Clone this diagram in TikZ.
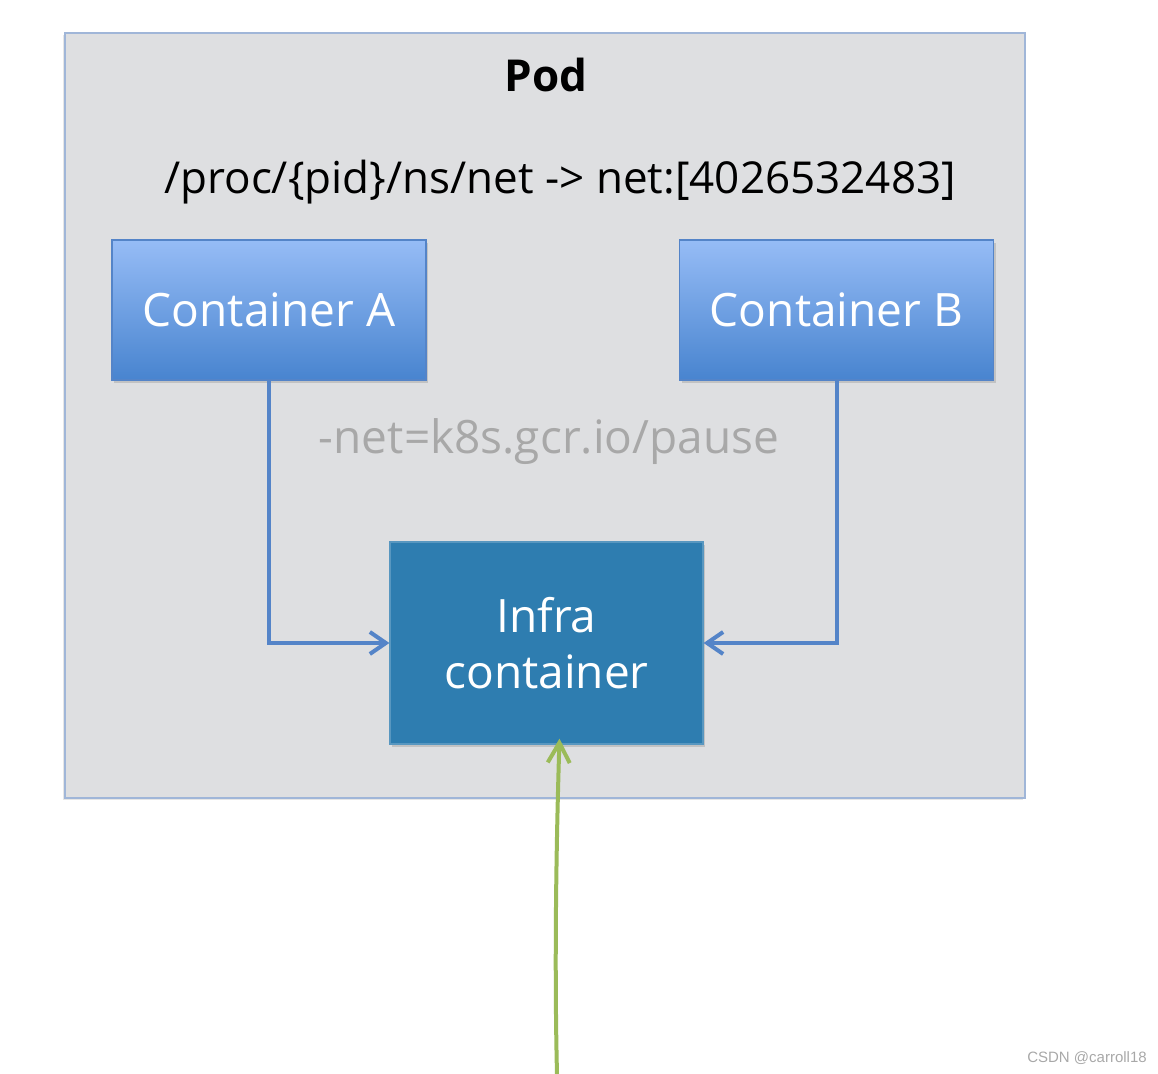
\documentclass[tikz,border=0pt]{standalone}
\usepackage{fontspec}
\setmainfont{Open Sans}
\newfontfamily\markfont{Liberation Sans}
\usetikzlibrary{arrows.meta,shadows}
\tikzset{>={Straight Barb[length=8pt,width=11pt]}}
\definecolor{mypodgray}{RGB}{222,223,225}
\definecolor{mypodline}{RGB}{160,182,216}
\definecolor{mytopblue}{RGB}{150,188,246}
\definecolor{mybotblue}{RGB}{72,132,207}
\definecolor{myedgeblue}{RGB}{84,132,200}
\definecolor{myinfra}{RGB}{46,125,176}
\definecolor{mygreen}{RGB}{155,187,89}
\definecolor{mygray}{RGB}{168,168,168}
\tikzset{
  pod/.style={fill=mypodgray,draw=mypodline,line width=1pt,
    drop shadow={shadow xshift=-1pt,shadow yshift=-1pt,opacity=0.2}},
  container/.style={draw=myedgeblue,line width=0.6pt,
    top color=mytopblue,bottom color=mybotblue,
    minimum width=157pt,minimum height=70pt,text=white,
    font=\fontsize{23}{28}\selectfont,
    drop shadow={shadow xshift=1pt,shadow yshift=-1.5pt,opacity=0.3}},
  infrabox/.style={fill=myinfra,draw=myinfra!80!white,line width=0.6pt,
    minimum width=156.5pt,minimum height=101pt,text=white,
    align=center,font=\fontsize{23}{28}\selectfont,
    drop shadow={shadow xshift=1pt,shadow yshift=-1.5pt,opacity=0.3}},
  link/.style={->,draw=myedgeblue,line width=2pt},
  entry/.style={-{Straight Barb[length=10pt,width=11pt]},draw=mygreen,line width=2pt}
}

\begin{document}
\begin{tikzpicture}[x=0.5pt,y=-0.5pt]
  \useasboundingbox (0,0) rectangle (1158,1074);

  % pod
  \draw[pod] (65,33) rectangle (1025,798);

  % boxes
  \node[container] (conA) at (269,310) {Container A};
  \node[container] (conB) at (836.5,310) {Container B};
  \node[infrabox] (infra) at (546.5,643) {Infra\\container};

  % labels
  \node[font=\fontsize{22}{26}\bfseries] (podlabel) at (546,75) {Pod};
  \node[font=\fontsize{22}{26}\selectfont] (nspath) at (560,182)
    {/proc/\{pid\}/ns/net -> net:[4026532483]};
  \node[font=\fontsize{23}{28}\selectfont,text=mygray] (netflag) at (549,442)
    {-net=k8s.gcr.io/pause};
  \node[font=\markfont\fontsize{7.5}{9}\selectfont,text=mygray] (mark) at (1087,1058)
    {CSDN @carroll18};

  % arrows
  \draw[link] (conA.south) |- (infra.west);
  \draw[link] (conB.south) |- (infra.east);
  \coordinate (ent) at (557,1074);
  \draw[entry] (ent) .. controls (554,950) and (557,820)
    .. ([xshift=6.5pt,yshift=3pt]infra.south);

\end{tikzpicture}
\end{document}
